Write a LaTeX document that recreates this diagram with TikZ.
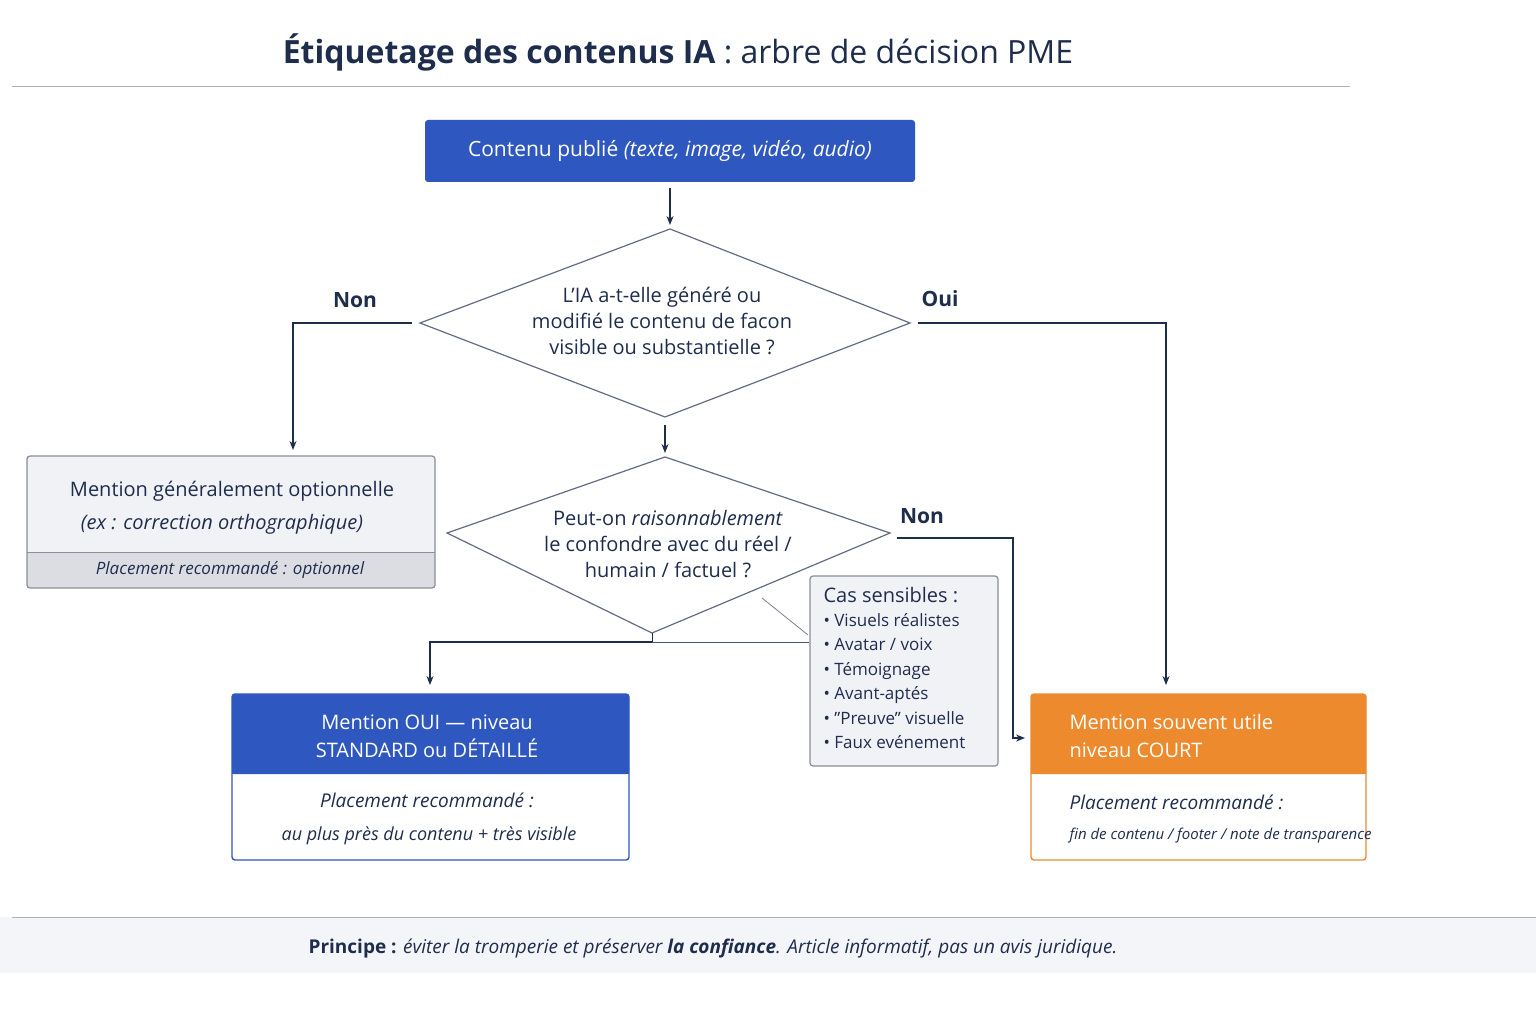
\documentclass[tikz,border=0pt]{standalone}
\usepackage{fontspec}
\setmainfont{Open Sans}
\usetikzlibrary{arrows.meta}
\definecolor{navy}{HTML}{1F2D4D}
\definecolor{blu}{HTML}{2F57C0}
\definecolor{ora}{HTML}{EE8A2E}
\definecolor{lg}{HTML}{F1F2F6}
\definecolor{lg2}{HTML}{DCDDE3}
\definecolor{bd}{HTML}{8A8E99}
\begin{document}
\begin{tikzpicture}[x=1pt,y=-1pt,
  conn/.style={draw=navy,line width=1.2pt},
  arr/.style={conn,-{Stealth[length=9pt,width=7pt]}},
  txt/.style={text=navy,font=\fontsize{20}{26}\selectfont,align=center},
  lab/.style={text=navy,font=\fontsize{21}{24}\selectfont\bfseries},
  dia/.style={draw=navy!70,line width=1.2pt,fill=white}]
\useasboundingbox (0,0) rectangle (1536,1024);
\fill[white] (0,0) rectangle (1536,1024);
% title
\node[text=navy,font=\fontsize{32}{36}\selectfont] (title) at (678,52) {\textbf{Étiquetage des contenus IA} : arbre de décision PME};
\draw[bd!70,line width=1pt] (12,87) -- (1350,87);
% top box
\node[fill=blu,rounded corners=3pt,minimum width=490pt,minimum height=62pt,text=white,font=\fontsize{21}{24}\selectfont] (top) at (670,151) {Contenu publié \textit{(texte, image, vidéo, audio)}};
% diamond 1
\draw[dia] (420,323) coordinate (d1l) -- (670,229) -- (910,323) coordinate (d1r) -- (665,417) coordinate (d1b) -- cycle;
\node[txt] (d1) at (662,321) {L'IA a-t-elle généré ou\\ modifié le contenu de facon\\ visible ou substantielle ?};
\coordinate (d1t) at (670,225);
\draw[arr] (top.south) ++(0,6) -- (d1t);
% diamond 2
\draw[dia] (447,533) coordinate (d2l) -- (665,457) -- (890,533) coordinate (d2r) -- (652,633) coordinate (d2b) -- cycle;
\node[txt] (d2) at (668,544) {Peut-on \textit{raisonnablement}\\ le confondre avec du réel /\\ humain / factuel ?};
\coordinate (a2s) at (665,425); \coordinate (a2e) at (665,453);
\draw[arr] (a2s) -- (a2e);
% labels
\node[lab] (non1) at (355,300) {Non};
\node[lab] (oui1) at (940,299) {Oui};
\node[lab] (non2) at (922,516) {Non};
% left box
\fill[lg] (27,456) rectangle (435,552);
\fill[lg2] (27,552) rectangle (435,588);
\draw[bd,line width=1pt] (27,552) -- (435,552);
\draw[bd,line width=1.2pt,rounded corners=3pt] (27,456) rectangle (435,588);
\node[txt] (lb1) at (232,491) {Mention généralement optionnelle};
\node[txt] (lb2) at (222,524) {\textit{(ex : correction orthographique)}};
\node[txt,font=\fontsize{17}{20}\selectfont\itshape] (lb3) at (230,570) {Placement recommandé : optionnel};
\coordinate (lbt) at (293,450);
% cas sensibles
\node[draw=bd,fill=lg,line width=1.2pt,rounded corners=3pt,minimum width=188pt,minimum height=190pt] (cas) at (904,671) {};
\node[text=navy,anchor=north west,align=left,font=\fontsize{17}{24.5}\selectfont] (castxt) at (820,584) {{\fontsize{20}{24}\selectfont Cas sensibles :}\\[-1pt]
• Visuels réalistes\\ • Avatar / voix\\ • Témoignage\\ • Avant-aptés\\ • "Preuve" visuelle\\ • Faux evénement};
% blue result box
\fill[blu,rounded corners=3pt] (232,694) rectangle (629,774);
\fill[blu] (232,740) rectangle (629,774);
\draw[blu,line width=1.4pt,rounded corners=3pt] (232,694) rectangle (629,860);
\node[text=white,align=center,font=\fontsize{20}{28}\selectfont] (bb1) at (427,736) {Mention OUI — niveau\\ STANDARD ou DÉTAILLÉ};
\node[txt,font=\fontsize{19}{24}\selectfont\itshape] (bb2) at (427,800) {Placement recommandé :};
\node[txt,font=\fontsize{18}{24}\selectfont\itshape] (bb3) at (429,836) {au plus près du contenu + très visible};
\coordinate (bbt) at (430,685);
% orange result box
\fill[ora,rounded corners=3pt] (1031,694) rectangle (1366,774);
\fill[ora] (1031,740) rectangle (1366,774);
\draw[ora,line width=1.4pt,rounded corners=3pt] (1031,694) rectangle (1366,860);
\node[text=white,align=left,anchor=west,font=\fontsize{20}{28}\selectfont] (ob1) at (1066,736) {Mention souvent utile\\ niveau COURT};
\node[txt,anchor=west,font=\fontsize{19}{24}\selectfont\itshape] (ob2) at (1066,802) {Placement recommandé :};
\node[txt,anchor=west,font=\fontsize{15}{20}\selectfont\itshape] (ob3) at (1066,836) {fin de contenu / footer / note de transparence};
\coordinate (obt) at (1166,685);
\coordinate (obl) at (1025,738);
% connectors
\draw[arr] (412,323) -| (lbt);
\draw[arr] (918,323) -| (obt);
\draw[arr] (897,538) -| (1013,738) -- (obl);
\coordinate (j) at (652,642);
\draw[conn,line width=1pt] (d2b) -- (j);
\draw[arr] (j) -| (bbt);
\draw[conn,line width=1pt,draw=navy!80] (j) -- (cas.west |- j);
\draw[navy!60,line width=0.8pt] (762,598) -- (808,635);
% footer
\fill[lg!80] (0,917) rectangle (1536,973);
\draw[bd!70,line width=1pt] (12,917) -- (1536,917);
\node[text=navy,font=\fontsize{19}{24}\selectfont] (foot) at (713,948) {\textbf{Principe :} \textit{éviter la tromperie et préserver \textbf{la confiance}. Article informatif, pas un avis juridique.}};
\end{tikzpicture}
\end{document}
